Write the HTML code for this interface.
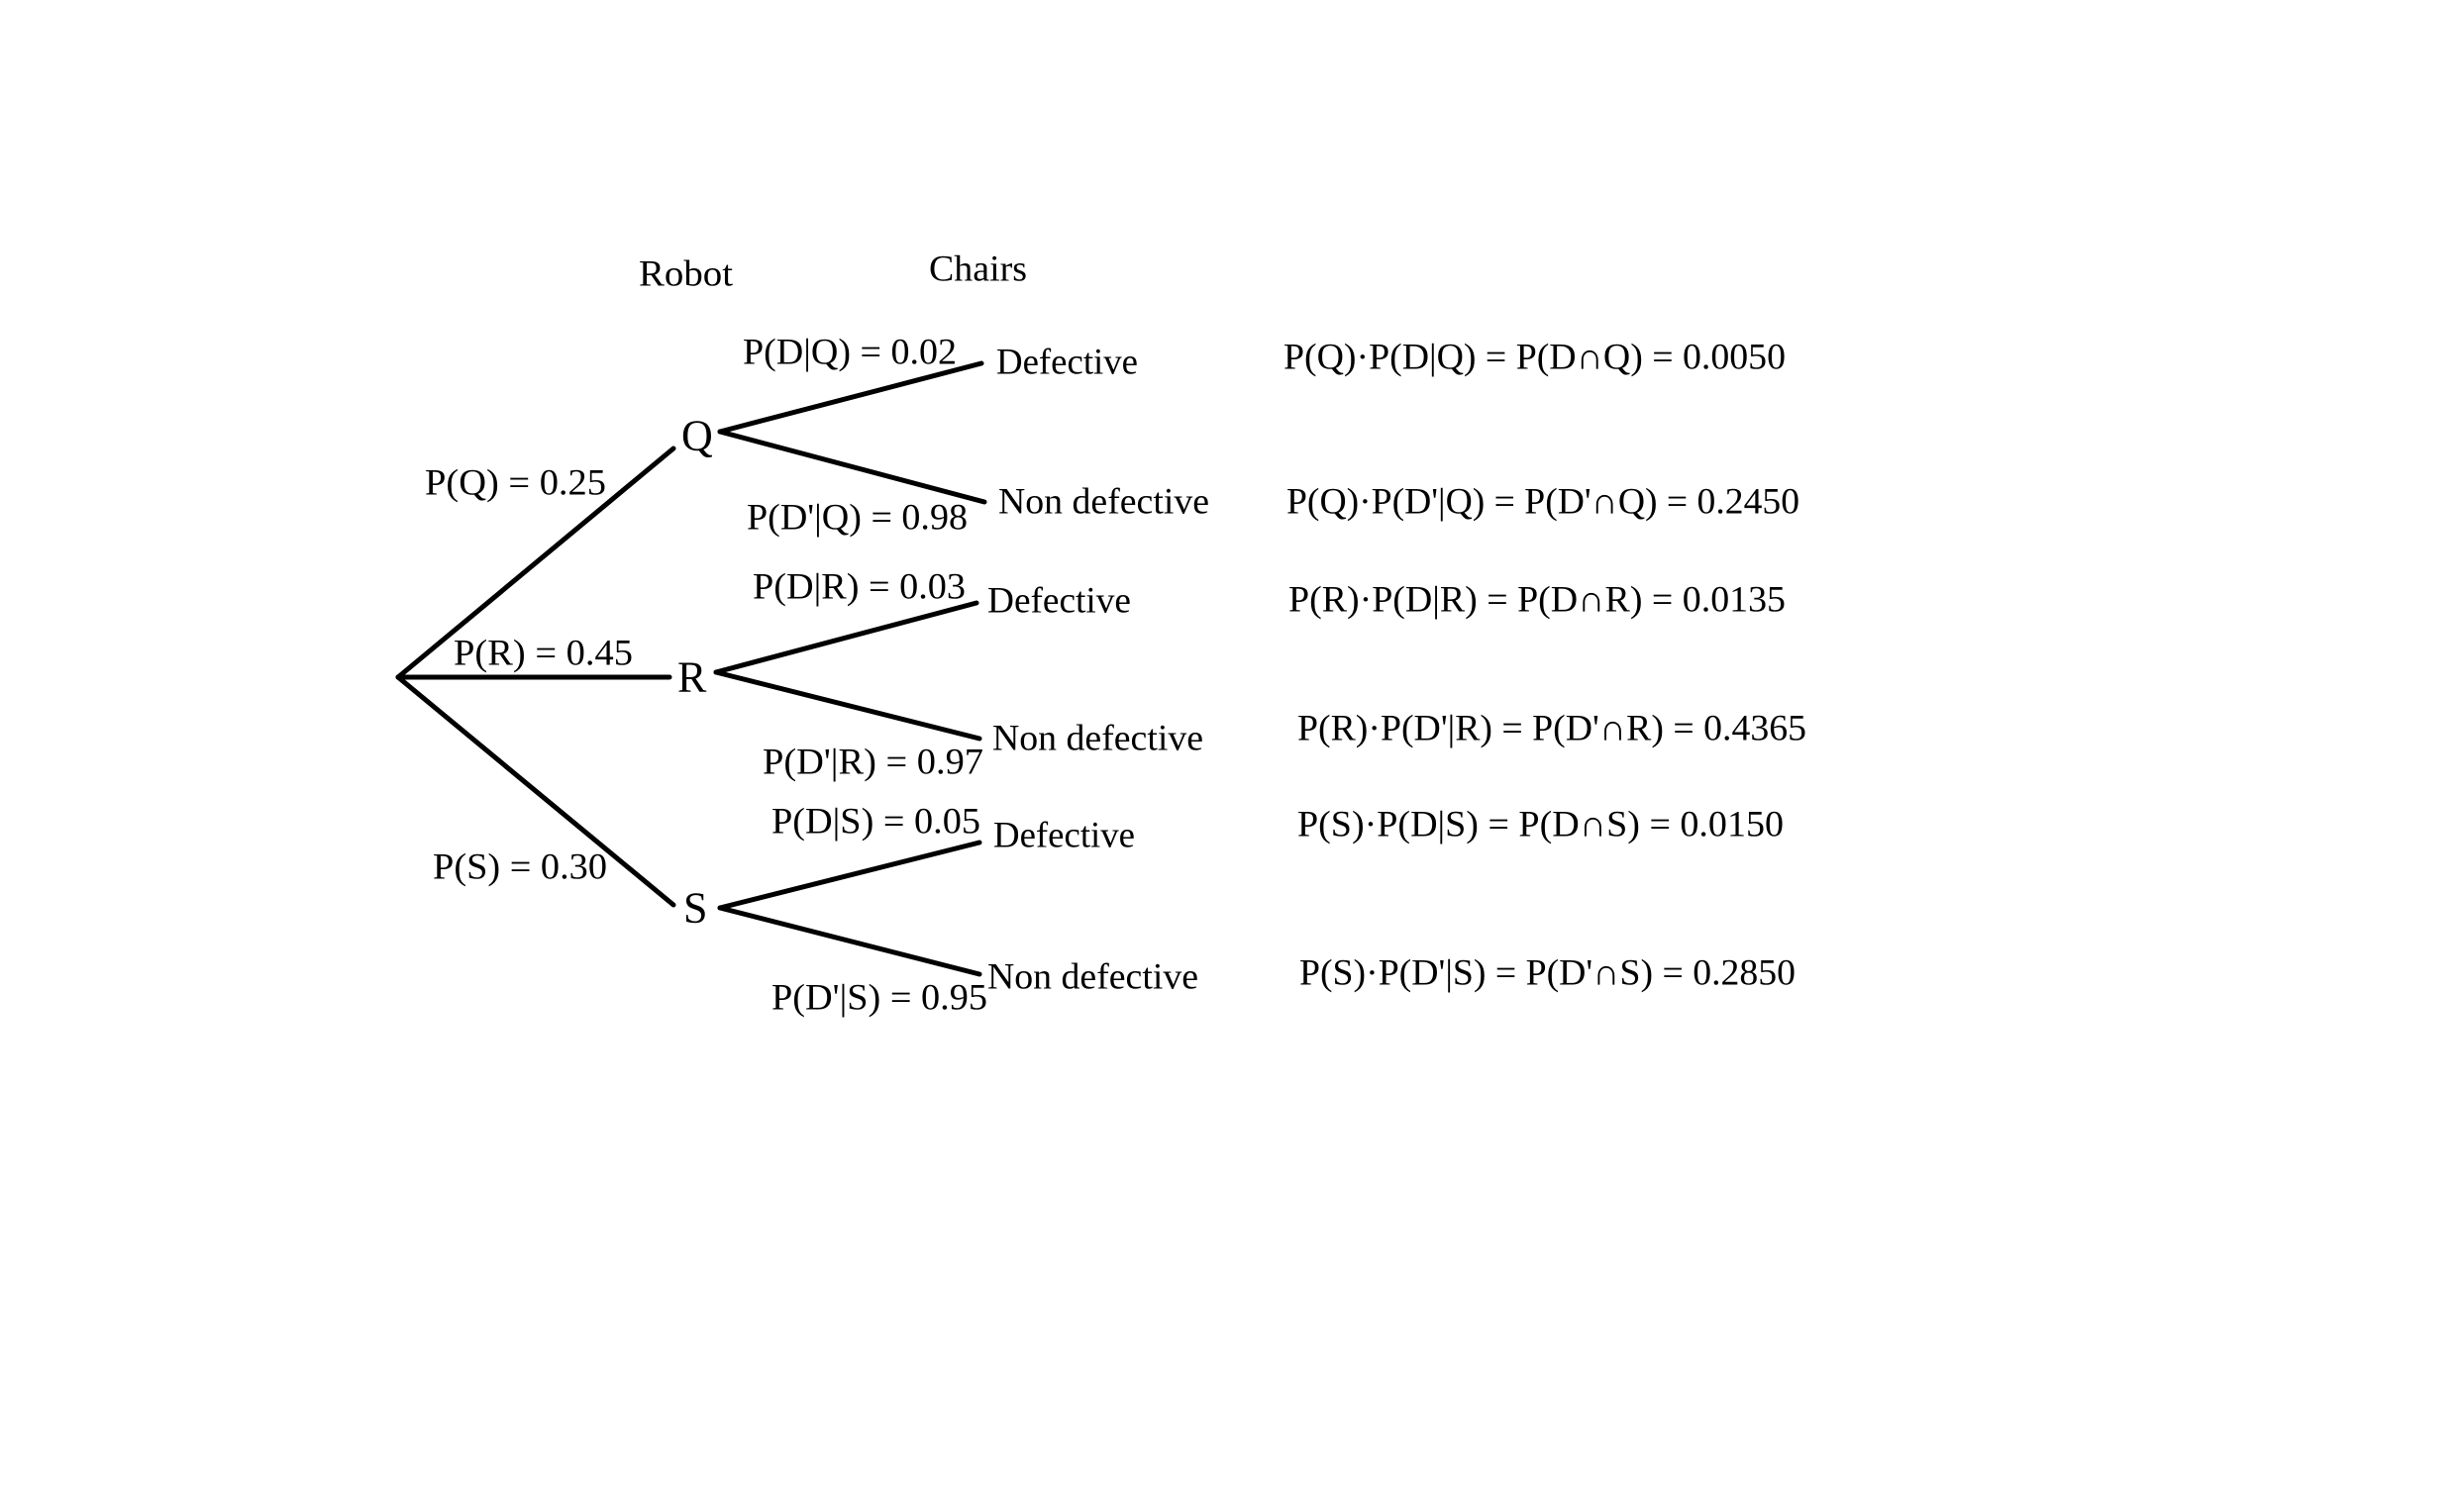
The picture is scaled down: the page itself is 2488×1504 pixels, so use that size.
<!DOCTYPE html>
<html><head><meta charset="utf-8"><style>
html,body{margin:0;padding:0;background:#fff;}
svg{display:block;}
text{font-family:"Liberation Serif",serif;font-size:37px;fill:#000;dominant-baseline:central;}
.n{font-size:44px;}
</style></head><body>
<svg width="2488" height="1504" viewBox="0 0 2488 1504">
<g stroke="#000" stroke-width="5" fill="none" stroke-linecap="round">
<line x1="402" y1="684" x2="680" y2="453"/>
<line x1="402" y1="684" x2="676" y2="684"/>
<line x1="402" y1="684" x2="680" y2="914"/>
<line x1="727" y1="436" x2="991" y2="367"/>
<line x1="727" y1="436" x2="994" y2="507"/>
<line x1="723" y1="679" x2="986" y2="609"/>
<line x1="723" y1="679" x2="989" y2="746"/>
<line x1="727" y1="917" x2="989" y2="851"/>
<line x1="727" y1="917" x2="989" y2="984"/>
</g>
<text x="645" y="277" textLength="95" lengthAdjust="spacingAndGlyphs">Robot</text>
<text x="938" y="272" textLength="99" lengthAdjust="spacingAndGlyphs">Chairs</text>
<text class="n" x="688" y="440">Q</text>
<text class="n" x="684" y="684">R</text>
<text class="n" x="690" y="917">S</text>
<text x="750" y="356" textLength="216" lengthAdjust="spacingAndGlyphs">P(D|Q) = 0.02</text>
<text x="1006" y="366" textLength="143" lengthAdjust="spacingAndGlyphs">Defective</text>
<text x="429" y="488" textLength="183" lengthAdjust="spacingAndGlyphs">P(Q) = 0.25</text>
<text x="754" y="523" textLength="223" lengthAdjust="spacingAndGlyphs">P(D'|Q) = 0.98</text>
<text x="1008" y="507" textLength="213" lengthAdjust="spacingAndGlyphs">Non defective</text>
<text x="760" y="593" textLength="215" lengthAdjust="spacingAndGlyphs">P(D|R) = 0.03</text>
<text x="997" y="607" textLength="145" lengthAdjust="spacingAndGlyphs">Defective</text>
<text x="458" y="660" textLength="181" lengthAdjust="spacingAndGlyphs">P(R) = 0.45</text>
<text x="1002" y="746" textLength="213" lengthAdjust="spacingAndGlyphs">Non defective</text>
<text x="770" y="770" textLength="223" lengthAdjust="spacingAndGlyphs">P(D'|R) = 0.97</text>
<text x="779" y="830" textLength="211" lengthAdjust="spacingAndGlyphs">P(D|S) = 0.05</text>
<text x="1003" y="844" textLength="143" lengthAdjust="spacingAndGlyphs">Defective</text>
<text x="437" y="876" textLength="176" lengthAdjust="spacingAndGlyphs">P(S) = 0.30</text>
<text x="997" y="987" textLength="213" lengthAdjust="spacingAndGlyphs">Non defective</text>
<text x="779" y="1008" textLength="218" lengthAdjust="spacingAndGlyphs">P(D'|S) = 0.95</text>
<text x="1296" y="361" textLength="507" lengthAdjust="spacingAndGlyphs">P(Q)·P(D|Q) = P(D∩Q) = 0.0050</text>
<text x="1299" y="507" textLength="518" lengthAdjust="spacingAndGlyphs">P(Q)·P(D'|Q) = P(D'∩Q) = 0.2450</text>
<text x="1301" y="606" textLength="502" lengthAdjust="spacingAndGlyphs">P(R)·P(D|R) = P(D∩R) = 0.0135</text>
<text x="1310" y="736" textLength="514" lengthAdjust="spacingAndGlyphs">P(R)·P(D'|R) = P(D'∩R) = 0.4365</text>
<text x="1310" y="833" textLength="491" lengthAdjust="spacingAndGlyphs">P(S)·P(D|S) = P(D∩S) = 0.0150</text>
<text x="1312" y="983" textLength="501" lengthAdjust="spacingAndGlyphs">P(S)·P(D'|S) = P(D'∩S) = 0.2850</text>
</svg>
</body></html>
